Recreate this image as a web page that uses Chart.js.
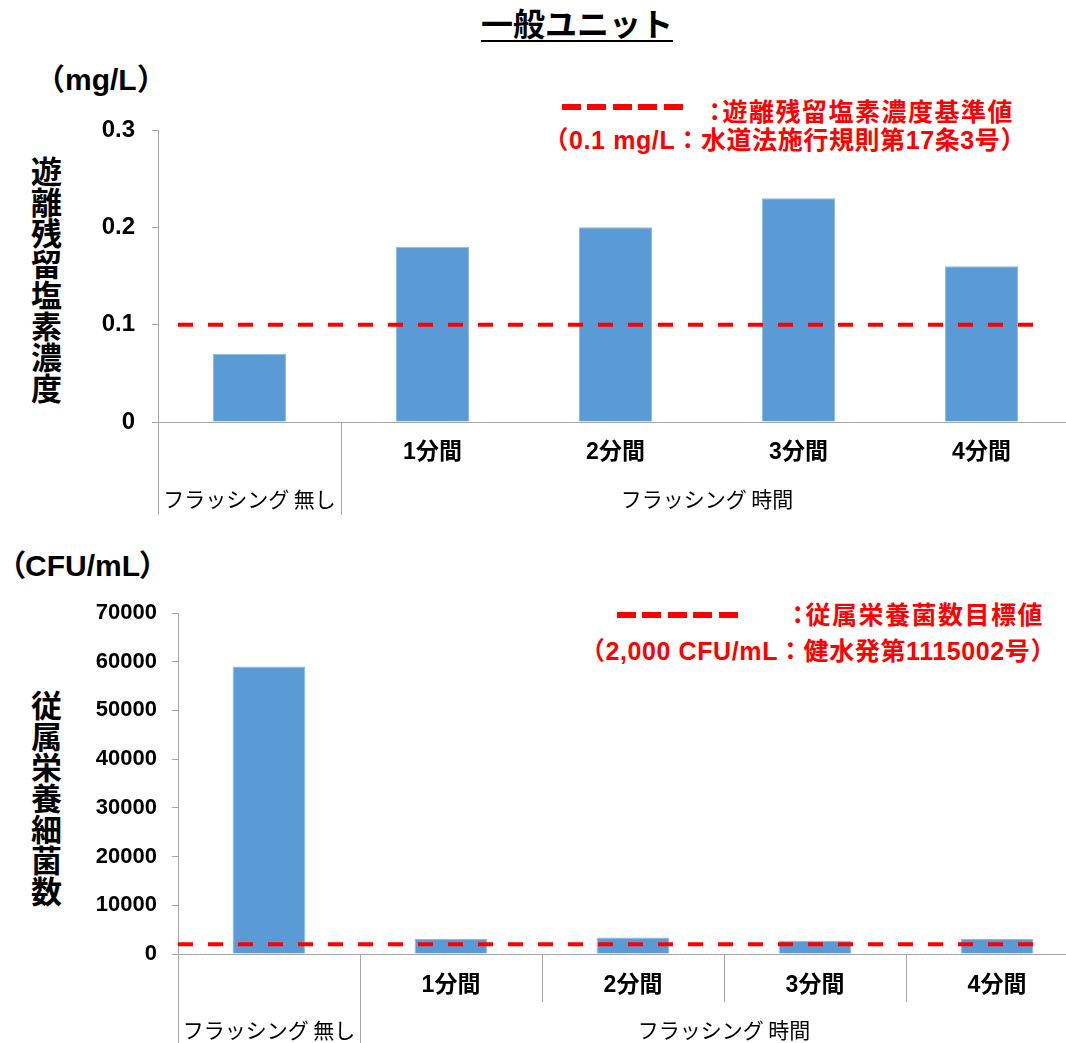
<!DOCTYPE html>
<html lang="ja">
<head>
<meta charset="utf-8">
<title>一般ユニット</title>
<script src="https://cdn.jsdelivr.net/npm/chart.js@4.4.1/dist/chart.umd.min.js"></script>
<style>
  html, body { margin: 0; padding: 0; width: 1066px; height: 1043px; overflow: hidden; background: #fff; }
  body { position: relative; font-family: "Liberation Sans", "Noto Sans CJK JP", sans-serif; color: #000; }
  .abs { position: absolute; white-space: nowrap; }
  canvas { position: absolute; left: 0; }
  #title { left: 577px; top: 4px; transform: translateX(-50%); font: bold 32px "Noto Sans CJK JP"; line-height: 36px;
           text-decoration: underline; text-decoration-thickness: 2px; text-underline-offset: 4px; }
  .unit { font-weight: bold; font-size: 30px; line-height: 34px; font-family: "Liberation Sans", "Noto Sans CJK JP", sans-serif; }
  .ytitle { writing-mode: vertical-rl; font: bold 31px "Noto Sans CJK JP"; line-height: 31px; letter-spacing: 0px; }
  .legend { color: #ff0000; font-weight: bold; font-size: 25px; line-height: 30px; font-family: "Liberation Sans", "Noto Sans CJK JP", sans-serif; }
  .legend.head { letter-spacing: 1.5px; font-feature-settings: 'palt'; }
  .legend.note { letter-spacing: 0.6px; }
  .dash { height: 6px; background: repeating-linear-gradient(to right, #ff0000 0 19px, transparent 19px 25.5px); }
</style>
</head>
<body>
<div id="title" class="abs">一般ユニット</div>

<div class="abs unit" style="left:35px; top:63px;">（mg/L）</div>
<div class="abs ytitle" style="left:31px; top:156px;">遊離残留塩素濃度</div>
<div class="abs dash" style="left:562px; top:104px; width:122px;"></div>
<div class="abs legend head" style="right:52px; top:97px;">：遊離残留塩素濃度基準値</div>
<div class="abs legend note" style="right:40px; top:125px;">（0.1 mg/L：水道法施行規則第17条3号）</div>
<canvas id="chlorine" width="1080" height="420" style="top:110px; width:1080px; height:420px;"></canvas>

<div class="abs unit" style="left:10px; top:549px; font-feature-settings:'palt';">（CFU/mL）</div>
<div class="abs ytitle" style="left:31px; top:690px;">従属栄養細菌数</div>
<div class="abs dash" style="left:617px; top:612px; width:123px;"></div>
<div class="abs legend head" style="right:22px; top:600px;">：従属栄養菌数目標値</div>
<div class="abs legend note" style="right:10px; top:636px;">（2,000 CFU/mL：健水発第1115002号）</div>
<canvas id="bacteria" width="1090" height="453" style="top:590px; width:1090px; height:453px;"></canvas>

<script>
// Categories on the x axis and the two-level grouping under them
const categories = ['', '1分間', '2分間', '3分間', '4分間'];
const groupLabels = ['フラッシング 無し', 'フラッシング 時間'];
const groupSizes = [1, 4];

// Free residual chlorine (mg/L)
const chlorineValues = [0.07, 0.18, 0.20, 0.23, 0.16];
const chlorineTicks = [0, 0.1, 0.2, 0.3];
const chlorineTickLabels = ['0', '0.1', '0.2', '0.3'];
const chlorineStandard = 0.1;

// Heterotrophic plate count (CFU/mL)
const bacteriaValues = [59000, 3100, 3400, 2700, 3100];
const bacteriaTicks = [0, 10000, 20000, 30000, 40000, 50000, 60000, 70000];
const bacteriaTickLabels = ['0', '10000', '20000', '30000', '40000', '50000', '60000', '70000'];
const bacteriaTarget = 2000;

const FONT = '"Liberation Sans", "Noto Sans CJK JP", sans-serif';
const AXIS = '#a6a6a6';

// Dashed reference line drawn at a value on the y scale
const thresholdPlugin = {
  id: 'threshold',
  afterDatasetsDraw(chart, args, o) {
    const { ctx, chartArea } = chart;
    const y = chart.scales.y.getPixelForValue(o.value);
    ctx.save();
    ctx.strokeStyle = o.color;
    ctx.lineWidth = o.width;
    ctx.setLineDash(o.dash);
    ctx.beginPath();
    ctx.moveTo(chartArea.left + o.insetStart, y);
    ctx.lineTo(chartArea.right - o.insetEnd, y);
    ctx.stroke();
    ctx.restore();
  }
};

// Category dividers and the group row under the x axis
const groupAxisPlugin = {
  id: 'groupAxis',
  afterDraw(chart, args, o) {
    const { ctx, chartArea } = chart;
    const x = chart.scales.x;
    const half = (x.getPixelForValue(1) - x.getPixelForValue(0)) / 2;
    const base = chartArea.bottom;
    ctx.save();
    ctx.strokeStyle = AXIS;
    ctx.lineWidth = 1;
    const vline = (px, depth) => {
      const xx = Math.round(px) + 0.5;
      ctx.beginPath();
      ctx.moveTo(xx, base);
      ctx.lineTo(xx, base + depth);
      ctx.stroke();
    };
    if (o.innerDepth) {
      for (let i = 1; i < categories.length; i++) vline(x.getPixelForValue(i) - half, o.innerDepth);
    }
    let start = 0;
    ctx.fillStyle = '#000';
    ctx.font = o.font;
    ctx.textAlign = 'center';
    ctx.textBaseline = 'middle';
    groupSizes.forEach((n, g) => {
      const left = x.getPixelForValue(start) - half;
      const right = x.getPixelForValue(start + n - 1) + half;
      vline(left, o.groupDepth);
      ctx.fillText(groupLabels[g], (left + right) / 2, base + o.labelOffset);
      start += n;
    });
    ctx.restore();
  }
};

function buildChart(id, cfg) {
  return new Chart(document.getElementById(id), {
    type: 'bar',
    data: {
      labels: categories,
      datasets: [{
        data: cfg.values,
        backgroundColor: '#5b9bd5',
        borderColor: '#8cb9e3',
        borderWidth: 1,
        barPercentage: 0.4,
        categoryPercentage: 1
      }]
    },
    options: {
      responsive: false,
      animation: false,
      devicePixelRatio: 1,
      layout: { padding: { top: cfg.padTop, right: cfg.padRight, left: 0, bottom: 0 } },
      plugins: {
        legend: { display: false },
        tooltip: { enabled: false },
        threshold: { value: cfg.threshold, color: '#ff0000', width: 4, dash: [15, 15],
                     insetStart: cfg.insetStart, insetEnd: cfg.insetEnd },
        groupAxis: { innerDepth: cfg.innerDepth, groupDepth: cfg.groupDepth,
                     labelOffset: cfg.groupOffset, font: '21px "Noto Sans CJK JP", sans-serif' }
      },
      scales: {
        x: {
          grid: { display: false, drawTicks: false },
          border: { display: true, color: AXIS },
          ticks: { font: { family: FONT, size: 23, weight: 'bold' }, color: '#000', padding: cfg.xPad,
                   maxRotation: 0, autoSkip: false },
          afterFit(s) { s.height = cfg.xHeight; }
        },
        y: {
          min: cfg.ticks[0],
          max: cfg.ticks[cfg.ticks.length - 1],
          grid: { display: true, drawOnChartArea: false, drawTicks: true, tickLength: 6, color: AXIS },
          border: { display: true, color: AXIS },
          ticks: { font: { family: FONT, size: cfg.yFont, weight: 'bold' }, color: '#000', padding: cfg.yPad,
                   callback: (v, i) => cfg.tickLabels[i] },
          afterBuildTicks(s) { s.ticks = cfg.ticks.map(v => ({ value: v })); },
          afterFit(s) {
            s.width = cfg.yWidth;
            s.paddingTop = 0;
            s.paddingBottom = 0;
          }
        }
      }
    },
    plugins: [thresholdPlugin, groupAxisPlugin]
  });
}

buildChart('chlorine', {
  values: chlorineValues, ticks: chlorineTicks, tickLabels: chlorineTickLabels, threshold: chlorineStandard,
  padTop: 20, padRight: 7, yWidth: 158, yPad: 17, yFont: 24, xHeight: 108, xPad: 17,
  insetStart: 20, insetEnd: 25, innerDepth: 0, groupDepth: 93, groupOffset: 77
});

buildChart('bacteria', {
  values: bacteriaValues, ticks: bacteriaTicks, tickLabels: bacteriaTickLabels, threshold: bacteriaTarget,
  padTop: 23, padRight: 2, yWidth: 178, yPad: 15, yFont: 22, xHeight: 89, xPad: 18,
  insetStart: 0, insetEnd: 40, innerDepth: 48, groupDepth: 89, groupOffset: 76
});
</script>
</body>
</html>
